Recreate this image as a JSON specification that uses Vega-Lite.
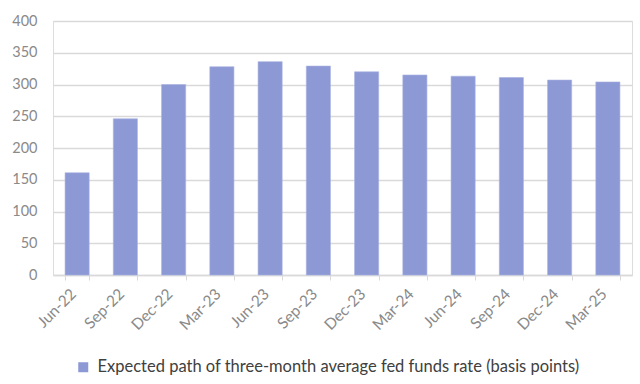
{
  "$schema": "https://vega.github.io/schema/vega-lite/v6.json",
  "autosize": {"type": "none"},
  "padding": {"left": 53, "top": 21, "right": 8, "bottom": 109},
  "width": 579,
  "height": 254,
  "background": "white",
  "data": {
    "values": [
      {"period": "Jun-22", "rate": 161},
      {"period": "Sep-22", "rate": 246},
      {"period": "Dec-22", "rate": 300},
      {"period": "Mar-23", "rate": 328},
      {"period": "Jun-23", "rate": 336},
      {"period": "Sep-23", "rate": 329},
      {"period": "Dec-23", "rate": 320},
      {"period": "Mar-24", "rate": 315},
      {"period": "Jun-24", "rate": 313},
      {"period": "Sep-24", "rate": 311},
      {"period": "Dec-24", "rate": 307},
      {"period": "Mar-25", "rate": 304}
    ]
  },
  "mark": {"type": "bar", "stroke": "#a9b2e0", "strokeWidth": 0.6},
  "encoding": {
    "x": {
      "field": "period",
      "type": "ordinal",
      "sort": null,
      "scale": {"paddingInner": 0.5, "paddingOuter": 0.25},
      "axis": {
        "title": null,
        "labelAngle": -45,
        "labelAlign": "right",
        "labelBaseline": "middle",
        "labelFont": "Lato",
        "labelFontSize": 15.5,
        "labelColor": "#8a8a8a",
        "labelPadding": 11,
        "labelOffset": -4,
        "tickBand": "extent",
        "tickColor": "#d9d9d9",
        "tickSize": 5,
        "domainColor": "#d9d9d9",
        "domainWidth": 1.5,
        "grid": false
      }
    },
    "y": {
      "field": "rate",
      "type": "quantitative",
      "scale": {"domain": [0, 400]},
      "axis": {
        "title": null,
        "values": [0, 50, 100, 150, 200, 250, 300, 350, 400],
        "labelFont": "Lato",
        "labelFontSize": 14.5,
        "labelColor": "#8a8a8a",
        "labelPadding": 16,
        "ticks": false,
        "domain": false,
        "gridColor": "#d9d9d9",
        "gridWidth": 1.5
      }
    },
    "color": {
      "datum": "Expected path of three-month average fed funds rate (basis points)",
      "type": "nominal",
      "scale": {"range": ["#8c99d4"]},
      "legend": {
        "title": null,
        "orient": "none",
        "legendX": 22,
        "legendY": 338,
        "padding": 0,
        "symbolType": "square",
        "symbolSize": 100,
        "symbolStrokeWidth": 0,
        "labelFont": "Lato",
        "labelFontSize": 16.5,
        "labelColor": "#404040",
        "labelOffset": 6,
        "labelLimit": 0
      }
    }
  }
}
